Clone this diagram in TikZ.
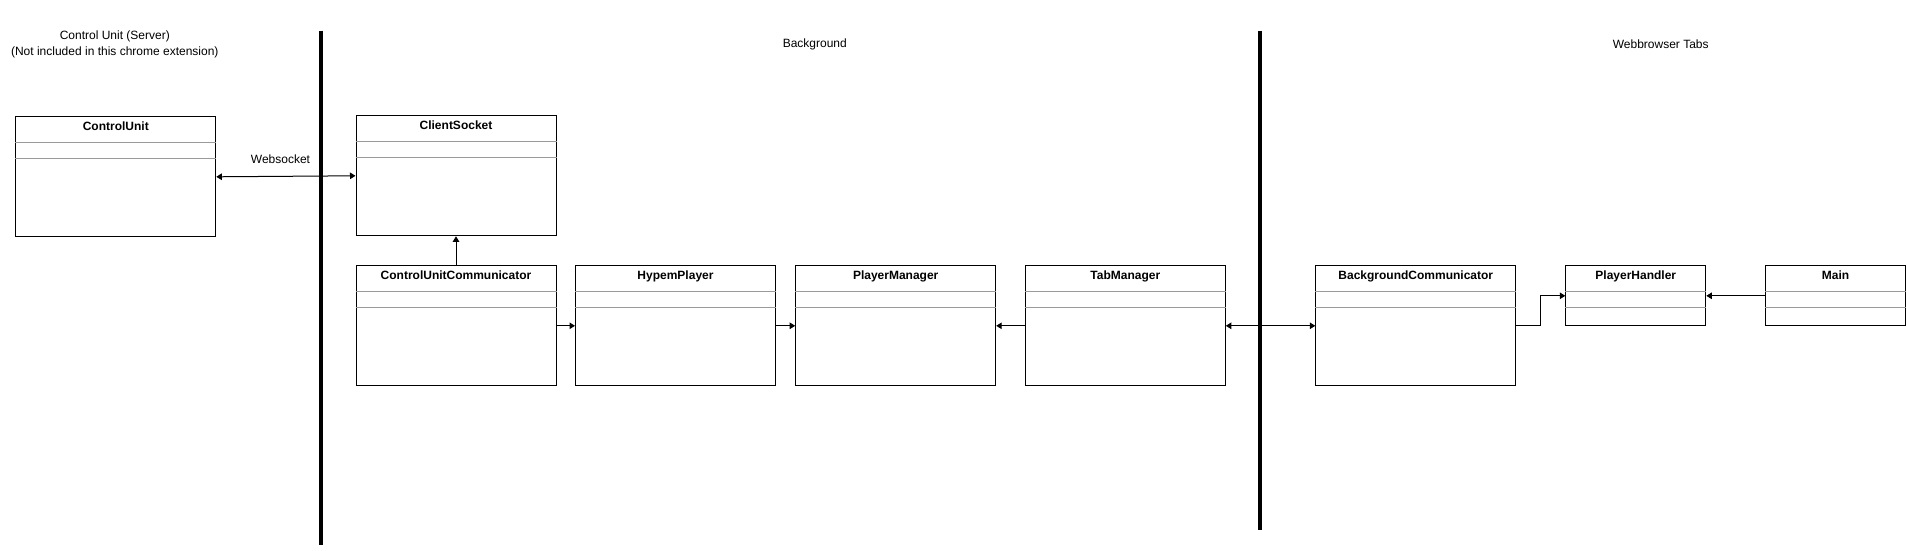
\documentclass[tikz,border=0pt]{standalone}
\usepackage{fontspec}
\setmainfont{Liberation Sans}
\usetikzlibrary{arrows.meta,calc}
\definecolor{divgray}{HTML}{9A9A9A}
\tikzset{
  umlbox/.style={draw=black, line width=1pt, rectangle, inner sep=0pt, anchor=north west, minimum height=120pt, minimum width=200pt},
  smallbox/.style={umlbox, minimum width=140pt, minimum height=60pt},
  boxtitle/.style={font=\bfseries\fontsize{12}{14}\selectfont, inner sep=0pt, text height=8.6pt, text depth=2.6pt, anchor=center},
  divider/.style={draw=divgray, line width=0.9pt},
  conn/.style={draw=black, line width=1pt, -{Triangle[length=5.5pt,width=6.5pt]}},
  dconn/.style={draw=black, line width=1pt, {Triangle[length=5.5pt,width=6.5pt]}-{Triangle[length=5.5pt,width=6.5pt]}},
  sep/.style={draw=black, line width=4pt},
  lbl/.style={font=\fontsize{12}{15.3}\selectfont, inner sep=0pt, align=center}
}
\newcommand{\umldividers}[1]{%
  \draw[divider] ([yshift=-26pt]#1.north west) -- ([yshift=-26pt]#1.north east);
  \draw[divider] ([yshift=-42pt]#1.north west) -- ([yshift=-42pt]#1.north east);
}
\begin{document}
\begin{tikzpicture}[x=1pt,y=-1pt]
\useasboundingbox (0,0) rectangle (1907,551);
\fill[white] (0,0) rectangle (1907,551);

% separators
\coordinate (s1t) at (320.7,30.7);
\coordinate (s1b) at (320.7,545.3);
\coordinate (s2t) at (1260.2,30.6);
\coordinate (s2b) at (1260.2,530);
\draw[sep] (s1t) -- (s1b);
\draw[sep] (s2t) -- (s2b);

% region labels
\node[lbl] (lcu) at (114.8,44.5) {Control Unit (Server)\\(Not included in this chrome extension)};
\node[lbl] (lbg) at (814.8,44.5) {Background};
\node[lbl] (lwt) at (1660.7,44.5) {Webbrowser Tabs};

% boxes
\node[umlbox] (cu) at (15.3,116.3) {};
\node[umlbox] (cs) at (355.5,115.3) {};
\node[umlbox] (cuc) at (355.5,265.3) {};
\node[umlbox] (hp) at (575,265.3) {};
\node[umlbox] (pm) at (795.2,265.3) {};
\node[umlbox] (tm) at (1024.8,265.3) {};
\node[umlbox] (bc) at (1315.3,265.3) {};
\node[smallbox] (ph) at (1565.3,265.3) {};
\node[smallbox] (mn) at (1765,265.3) {};

\foreach \b in {cu,cs,cuc,hp,pm,tm,bc,ph,mn}{\umldividers{\b}}

\node[boxtitle] (tcu) at ([yshift=-10.8pt]cu.north) {ControlUnit};
\node[boxtitle] (tcs) at ([yshift=-10.8pt]cs.north) {ClientSocket};
\node[boxtitle] (tcuc) at ([yshift=-10.8pt]cuc.north) {ControlUnitCommunicator};
\node[boxtitle] (thp) at ([yshift=-10.8pt]hp.north) {HypemPlayer};
\node[boxtitle] (tpm) at ([yshift=-10.8pt]pm.north) {PlayerManager};
\node[boxtitle] (ttm) at ([yshift=-10.8pt]tm.north) {TabManager};
\node[boxtitle] (tbc) at ([yshift=-10.8pt]bc.north) {BackgroundCommunicator};
\node[boxtitle] (tph) at ([yshift=-10.8pt]ph.north) {PlayerHandler};
\node[boxtitle] (tmn) at ([yshift=-10.8pt]mn.north) {Main};

% connectors
\draw[dconn] (cu.east) -- (cs.west);
\node[lbl] (lws) at (280.5,159.5) {Websocket};
\draw[conn] (cuc.north) -- (cs.south);
\draw[conn] (cuc.east) -- (hp.west);
\draw[conn] (hp.east) -- (pm.west);
\draw[conn] (tm.west) -- (pm.east);
\draw[dconn] (tm.east) -- (bc.west);
\draw[conn] (bc.east) -- ++(24.5,0) |- (ph.west);
\draw[conn] (mn.west) -- (ph.east);
\end{tikzpicture}
\end{document}
